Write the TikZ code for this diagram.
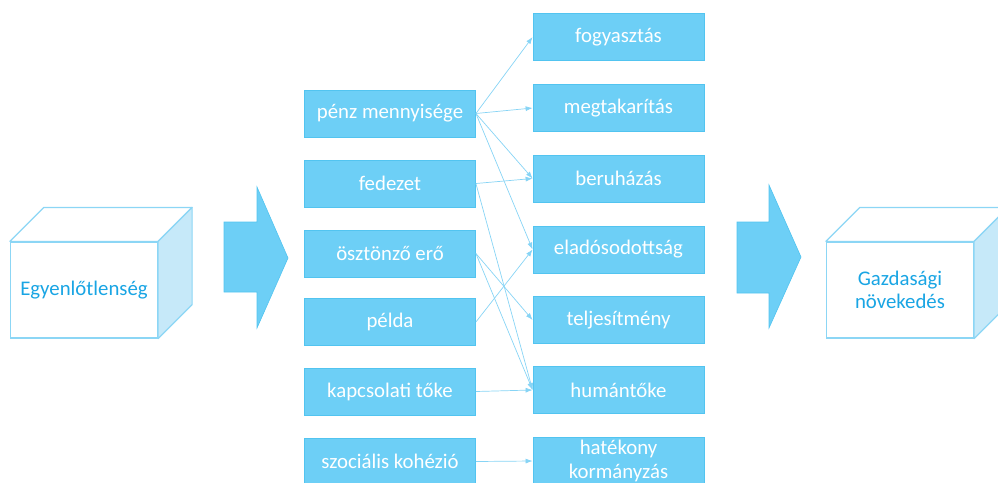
\documentclass[tikz,border=0pt]{standalone}
\usepackage{fontspec}
\setmainfont{Carlito}
\usetikzlibrary{arrows.meta}

\definecolor{boxfill}{RGB}{109,207,246}
\definecolor{boxedge}{RGB}{82,196,240}
\definecolor{linkblue}{RGB}{135,212,245}
\definecolor{cubeedge}{RGB}{140,214,245}
\definecolor{cubeside}{RGB}{198,233,249}
\definecolor{cubetext}{RGB}{25,165,228}

\tikzset{
  doboz/.style={draw=boxedge, line width=0.8pt, fill=boxfill, text=white,
    minimum width=171pt, minimum height=47pt, inner sep=1pt, align=center,
    font=\fontsize{20.8}{23.5}\selectfont},
  nyil/.style={draw=linkblue, line width=0.7pt, -{Latex[length=7pt,width=5pt]}},
  kocka/.style={draw=cubeedge, line width=1.2pt, fill=white, text=cubetext,
    minimum width=147pt, minimum height=96pt, inner sep=1pt, align=center,
    font=\fontsize{20.8}{23.5}\selectfont},
  lap/.style={draw=cubeedge, line width=1.2pt, line join=round},
  blokk/.style={fill=boxfill, draw=boxedge, line width=0.6pt}
}

\begin{document}
\begin{tikzpicture}[x=1pt,y=-1pt]
        \useasboundingbox (0,0) rectangle (998,482);

        % bal kocka
        \node[kocka] (egyenlotlenseg) at (84,290) {Egyenlőtlenség};
        \draw[lap,fill=white] (egyenlotlenseg.north west) -- ++(34,-34)
                -- ([shift={(34,-34)}]egyenlotlenseg.north east) -- (egyenlotlenseg.north east) -- cycle;
        \draw[lap,fill=cubeside] (egyenlotlenseg.north east) -- ++(34,-34)
                -- ([shift={(34,-34)}]egyenlotlenseg.south east) -- (egyenlotlenseg.south east) -- cycle;

        % nagy nyilak
        \filldraw[blokk] (224,222) -- (257,222) -- (257,187) -- (288,258)
                -- (257,328) -- (257,292) -- (224,292) -- cycle;
        \filldraw[blokk] (737,222) -- (769,222) -- (769,185) -- (801,257)
                -- (769,328) -- (769,293) -- (737,293) -- cycle;

        % jobb kocka
        \node[kocka] (novekedes) at (900,290) {Gazdasági\\növekedés};
        \draw[lap,fill=white] (novekedes.north west) -- ++(34,-34)
                -- ([shift={(34,-34)}]novekedes.north east) -- (novekedes.north east) -- cycle;
        \draw[lap,fill=cubeside] (novekedes.north east) -- ++(34,-34)
                -- ([shift={(34,-34)}]novekedes.south east) -- (novekedes.south east) -- cycle;

        % tenyezok
        \node[doboz] (penz) at (390,113.5) {pénz mennyisége};
        \node[doboz] (fedezet) at (390,183.5) {fedezet};
        \node[doboz] (osztonzo) at (390,253.5) {ösztönző erő};
        \node[doboz] (pelda) at (390,322) {példa};
        \node[doboz] (kapcsolati) at (390,391.5) {kapcsolati tőke};
        \node[doboz] (kohezio) at (390,461.5) {szociális kohézió};

        % hatasok
        \node[doboz] (fogyasztas) at (618.5,37) {fogyasztás};
        \node[doboz] (megtakaritas) at (618.5,108) {megtakarítás};
        \node[doboz] (beruhazas) at (618.5,178.5) {beruházás};
        \node[doboz] (eladosodottsag) at (618.5,249.5) {eladósodottság};
        \node[doboz] (teljesitmeny) at (618.5,320) {teljesítmény};
        \node[doboz] (humantoke) at (618.5,390) {humántőke};
        \node[doboz] (kormanyzas) at (618.5,461) {hatékony\\kormányzás};

        % kapcsolatok
        \draw[nyil] (penz.east) -- (fogyasztas.west);
        \draw[nyil] (penz.east) -- (megtakaritas.west);
        \draw[nyil] (penz.east) -- (beruhazas.west);
        \draw[nyil] (penz.east) -- (eladosodottsag.west);
        \draw[nyil] (fedezet.east) -- (beruhazas.west);
        \draw[nyil] (fedezet.east) -- (humantoke.west);
        \draw[nyil] (osztonzo.east) -- (teljesitmeny.west);
        \draw[nyil] (osztonzo.east) -- (humantoke.west);
        \draw[nyil] (pelda.east) -- (eladosodottsag.west);
        \draw[nyil] (kapcsolati.east) -- (humantoke.west);
        \draw[nyil] (kohezio.east) -- (kormanyzas.west);
\end{tikzpicture}
\end{document}
